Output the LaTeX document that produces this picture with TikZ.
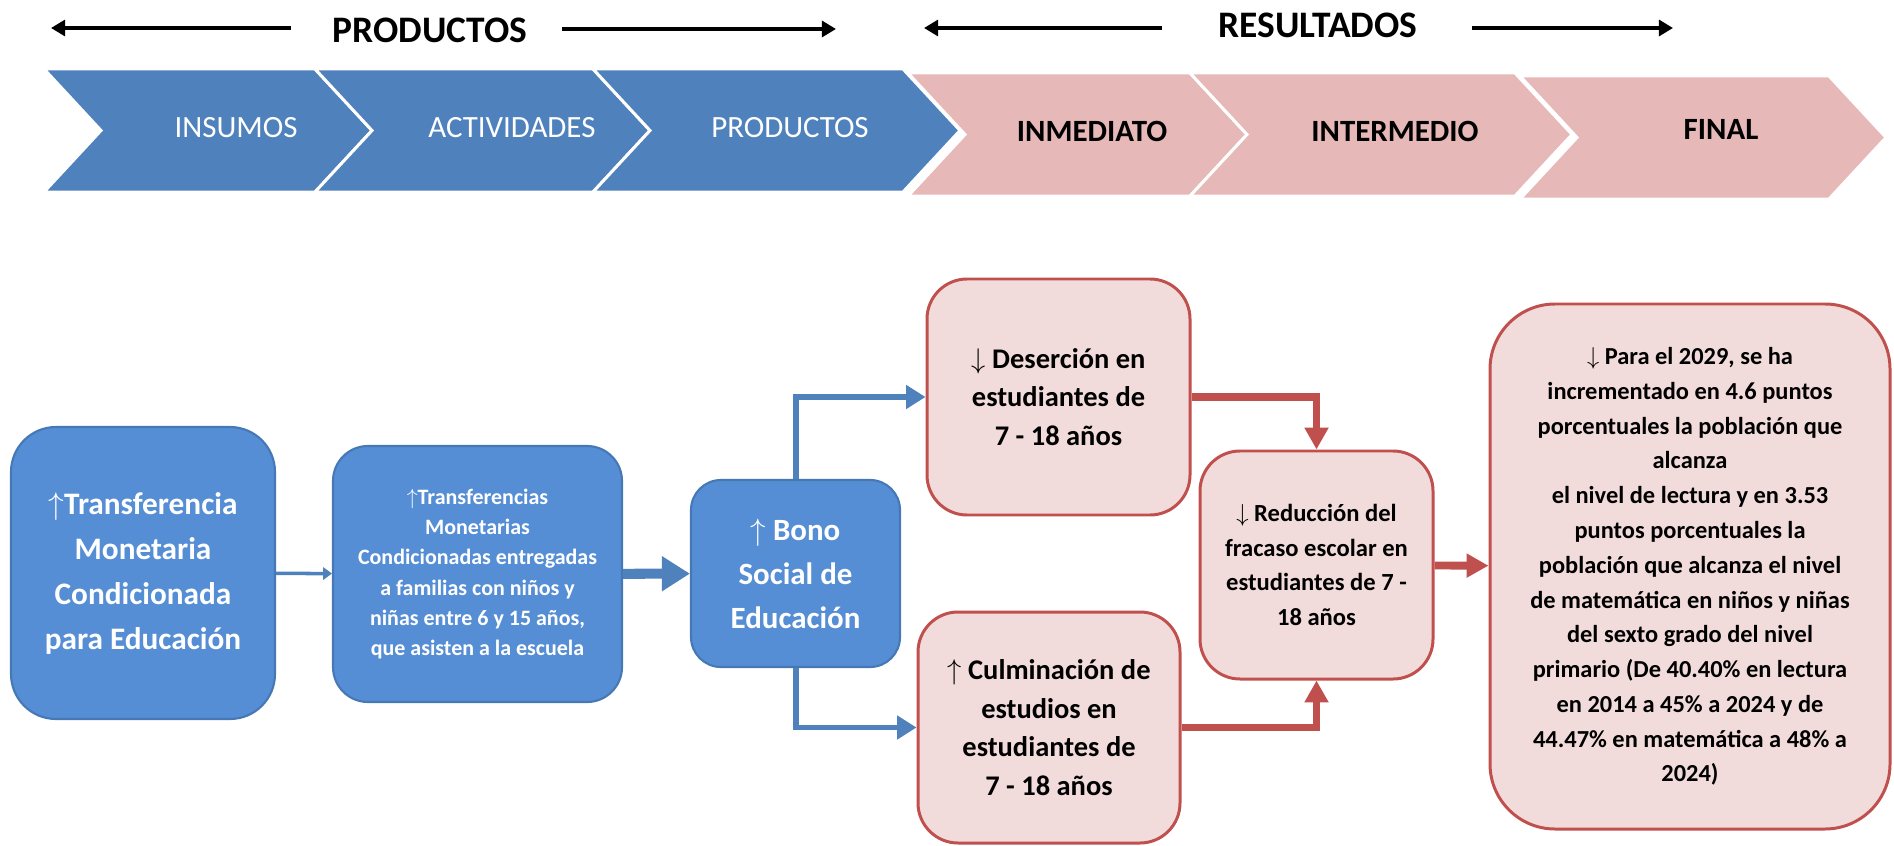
\RequirePackage{fix-cm}
\documentclass[tikz,border=0pt]{standalone}
\usepackage{fontspec}
\setmainfont{Carlito}
\definecolor{chevblue}{RGB}{79,129,189}
\definecolor{chevpink}{RGB}{230,184,183}
\definecolor{inblue}{RGB}{85,142,213}
\definecolor{inborder}{RGB}{71,120,182}
\definecolor{outpink}{RGB}{242,220,219}
\definecolor{outred}{RGB}{192,80,77}
\usetikzlibrary{arrows.meta}
\tikzset{
    chevron/.style={draw=white, line width=1.7pt},
    chevlabel/.style={font=\fontsize{17.6}{21}\selectfont, text=white},
    chevboldlabel/.style={font=\bfseries\fontsize{17.6}{21}\selectfont},
    headlabel/.style={font=\bfseries\fontsize{21.3}{25}\selectfont},
    inbox/.style={rectangle, align=center, draw=inborder, line width=1.2pt, fill=inblue, text=white, inner sep=2pt},
    outbox/.style={rectangle, align=center, draw=outred, line width=1.7pt, fill=outpink, inner sep=2pt},
    headarrow/.style={line width=2.8pt, -{Triangle[length=8pt,width=9pt]}},
    thinarrow/.style={line width=2pt, chevblue, -{Triangle[length=5pt,width=7pt]}},
    bigarrow/.style={line width=5.7pt, chevblue, -{Triangle[length=16pt,width=19pt]}},
    bluearrow/.style={line width=3.4pt, chevblue, -{Triangle[length=11pt,width=13pt]}},
    redarrow/.style={line width=4.5pt, outred, -{Triangle[length=12.5pt,width=13pt]}}
}
\begin{document}
\begin{tikzpicture}
        \useasboundingbox (0,0) rectangle (37.88,-16.92);

        % Header arrows
        \coordinate (pl1) at (1.02,-0.56);
        \coordinate (pl2) at (5.82,-0.56);
        \coordinate (pr1) at (11.24,-0.58);
        \coordinate (pr2) at (16.72,-0.58);
        \coordinate (rl1) at (18.48,-0.56);
        \coordinate (rl2) at (23.24,-0.56);
        \coordinate (rr1) at (29.44,-0.56);
        \coordinate (rr2) at (33.46,-0.56);
        \node[headlabel] (prodhead) at (8.6,-0.6) {PRODUCTOS};
        \node[headlabel] (resuhead) at (26.36,-0.5) {RESULTADOS};
        \draw[headarrow] (pl2) -- (pl1);
        \draw[headarrow] (pr1) -- (pr2);
        \draw[headarrow] (rl2) -- (rl1);
        \draw[headarrow] (rr1) -- (rr2);

        % Chevrons
        \draw[chevron, fill=chevblue] (0.88,-1.38) -- (6.30,-1.38) -- (7.44,-2.61) -- (6.30,-3.84) -- (0.88,-3.84) -- (2.02,-2.61) -- cycle;
        \draw[chevron, fill=chevblue] (6.30,-1.38) -- (11.86,-1.38) -- (13.00,-2.61) -- (11.86,-3.84) -- (6.30,-3.84) -- (7.44,-2.61) -- cycle;
        \draw[chevron, fill=chevblue] (11.86,-1.38) -- (18.06,-1.38) -- (19.20,-2.61) -- (18.06,-3.84) -- (11.86,-3.84) -- (13.00,-2.61) -- cycle;
        \draw[chevron, fill=chevpink] (18.16,-1.46) -- (23.80,-1.46) -- (24.94,-2.69) -- (23.80,-3.92) -- (18.16,-3.92) -- (19.30,-2.69) -- cycle;
        \draw[chevron, fill=chevpink] (23.80,-1.46) -- (30.30,-1.46) -- (31.44,-2.69) -- (30.30,-3.92) -- (23.80,-3.92) -- (24.94,-2.69) -- cycle;
        \draw[chevron, fill=chevpink] (30.40,-1.52) -- (36.58,-1.52) -- (37.72,-2.75) -- (36.58,-3.98) -- (30.40,-3.98) -- (31.54,-2.75) -- cycle;

        \node[chevlabel] (insumos) at (4.72,-2.56) {INSUMOS};
        \node[chevlabel] (activ) at (10.24,-2.56) {ACTIVIDADES};
        \node[chevlabel] (productos) at (15.8,-2.56) {PRODUCTOS};
        \node[chevboldlabel] (inmed) at (21.84,-2.62) {INMEDIATO};
        \node[chevboldlabel] (interm) at (27.9,-2.62) {INTERMEDIO};
        \node[chevboldlabel] (final) at (34.42,-2.58) {FINAL};

        % Blue boxes
        \node[inbox, rounded corners=0.9cm, minimum width=5.28cm, minimum height=5.84cm,
              font=\bfseries\fontsize{17.8}{25.6}\selectfont] (transf) at (2.86,-11.46) {
            $\uparrow$Transferencia\\Monetaria\\Condicionada\\para Educación
        };
        \node[inbox, rounded corners=0.7cm, minimum width=5.78cm, minimum height=5.12cm,
              font=\bfseries\fontsize{12.5}{17.1}\selectfont] (entreg) at (9.55,-11.48) {
            $\uparrow$Transferencias\\Monetarias\\Condicionadas entregadas\\a familias con niños y\\niñas entre 6 y 15 años,\\que asisten a la escuela
        };
        \node[inbox, rounded corners=0.6cm, minimum width=4.18cm, minimum height=3.74cm,
              font=\bfseries\fontsize{17.6}{25}\selectfont] (bono) at (15.91,-11.47) {
            $\uparrow$ Bono\\Social de\\Educación
        };

        % Red boxes
        \node[outbox, rounded corners=0.8cm, minimum width=5.26cm, minimum height=4.72cm,
              font=\bfseries\fontsize{16.2}{21.8}\selectfont] (deser) at (21.17,-7.94) {
            $\downarrow$ Deserción en\\estudiantes de\\7 - 18 años
        };
        \node[outbox, rounded corners=0.8cm, minimum width=5.24cm, minimum height=4.62cm,
              font=\bfseries\fontsize{16.2}{22}\selectfont] (culm) at (20.98,-14.55) {
            $\uparrow$ Culminación de\\estudios en\\estudiantes de\\7 - 18 años
        };
        \node[outbox, rounded corners=0.8cm, minimum width=4.66cm, minimum height=4.56cm,
              font=\bfseries\fontsize{14}{19.7}\selectfont] (reduc) at (26.33,-11.3) {
            $\downarrow$ Reducción del\\fracaso escolar en\\estudiantes de 7 -\\18 años
        };
        \node[outbox, rounded corners=1.3cm, minimum width=8.0cm, minimum height=10.5cm,
              font=\bfseries\fontsize{13.9}{19.8}\selectfont] (meta) at (33.8,-11.33) {
            $\downarrow$ Para el 2029, se ha\\incrementado en 4.6 puntos\\porcentuales la población que\\alcanza\\el nivel de lectura y en 3.53\\puntos porcentuales la\\población que alcanza el nivel\\de matemática en niños y niñas\\del sexto grado del nivel\\primario (De 40.40\% en lectura\\en 2014 a 45\% a 2024 y de\\44.47\% en matemática a 48\% a\\2024)
        };

        % Connectors
        \draw[thinarrow] (transf) -- (entreg);
        \draw[bigarrow] (entreg) -- (bono);
        \draw[bluearrow] (bono.north) |- (deser.west);
        \draw[bluearrow] (bono.south) |- (culm.west);
        \draw[redarrow] (deser.east) -| (reduc.north);
        \draw[redarrow] (culm.east) -| (reduc.south);
        \draw[redarrow] (reduc) -- (meta);
    \end{tikzpicture}
\end{document}
